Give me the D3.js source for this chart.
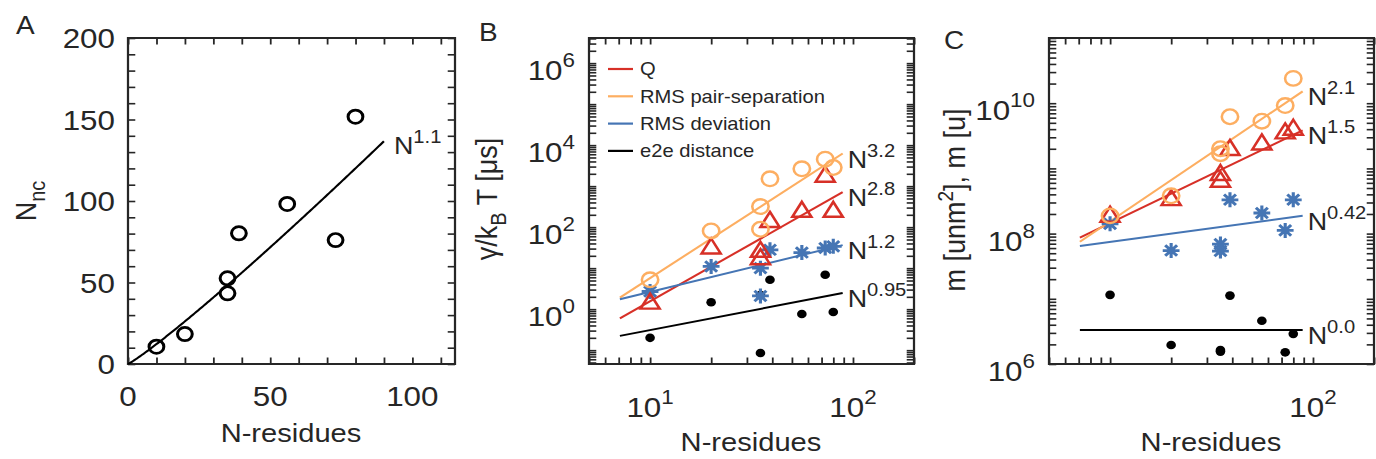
<!DOCTYPE html>
<html>
<head>
<meta charset="utf-8">
<script src="https://cdn.jsdelivr.net/npm/d3@7"></script>
<style>
  body { margin: 0; background: #fff; }
  svg { display: block; }
  text { font-family: "Liberation Sans", Arial, Helvetica, sans-serif; fill: #262626; }
</style>
</head>
<body>
<svg id="fig"></svg>
<script>
// ---- data -------------------------------------------------------------
const residues = [10, 20, 35, 35, 39, 56, 73, 80];

// A: number of native contacts
const nativeContacts = [10.6, 18.4, 52.6, 43.4, 80.2, 98.2, 76, 151.7];
const fitA = { exponent: 1.1, prefactor: 0.968, from: 0, to: 90, label: "1.1" };

// B: friction gamma/kBT [us] per reaction coordinate
const gammaQ    = [1.53, 33.7, 28, 18.5, 150, 265, 1900, 265];
const gammaPair = [5.2, 81, 318, 89, 1510, 2650, 4540, 2850];
const gammaRmsd = [2.7, 11, 10, 2.1, 28, 24, 31, 34];
const gammaE2e  = [0.2, 1.48, 2.2, 0.085, 5.2, 0.76, 6.9, 0.85];
const fitExpB   = [2.8, 3.2, 1.2, 0.95];
const fitLogPreB = [-2.606, -2.443, -0.778, -1.460];
const fitLabelB = ["2.8", "3.2", "1.2", "0.95"];

// C: effective mass
const massQ    = [1.95e8, 3.5e8, 8.5e8, 6.7e8, 2.06e9, 2.5e9, 3.7e9, 4.2e9];
const massPair = [1.87e8, 3.8e8, 2.0e9, 1.68e9, 6.2e9, 5.3e9, 9.2e9, 2.4e10];
const massRmsd = [1.41e8, 5.5e7, 6.9e7, 5.4e7, 3.3e8, 2.07e8, 1.12e8, 3.3e8];
const massE2e  = [1.15e7, 1.96e6, 1.64e6, 1.55e6, 1.12e7, 4.6e6, 1.51e6, 2.9e6];
const fitExpC   = [1.5, 2.1, 0.42, 0.0];
const fitLogPreC = [6.660, 6.087, 7.454, 6.52];
const fitLabelC = ["1.5", "2.1", "0.42", "0.0"];

const fitRangeLog = [7.1, 89];

const seriesNames  = ["Q", "RMS pair-separation", "RMS deviation", "e2e distance"];
const seriesColors = ["#d73027", "#fdae61", "#4575b4", "#000000"];
const seriesShapes = ["triangle", "circle", "star", "dot"];

const xTicksLinA = [0, 50, 100];
const yTicksLinA = [0, 50, 100, 150, 200];
const xTickExpB = [1, 2];
const yTickExpB = [0, 2, 4, 6];
const xTickExpC = [2];
const yTickExpC = [6, 8, 10];

// ---- figure setup ------------------------------------------------------
const SX = 1.12, W = 1376, H = 459;
const TOP = 38, BOTTOM = 364, TICK = 6.5;
const ink = "#262626";
const px = v => v / SX;

const svg = d3.select("#fig")
  .attr("width", W).attr("height", H)
  .attr("viewBox", `0 0 ${W / SX} ${H}`)
  .attr("preserveAspectRatio", "none");

function logTicks(domain) {
  const out = [];
  const lo = Math.floor(Math.log10(domain[0])), hi = Math.ceil(Math.log10(domain[1]));
  for (let e = lo; e <= hi; e++)
    for (let m = 1; m <= 9; m++) {
      const v = m * Math.pow(10, e);
      if (v >= domain[0] * 0.999 && v <= domain[1] * 1.001) out.push(v);
    }
  return out;
}

function clean(sel) {
  sel.select(".domain").remove();
  sel.selectAll(".tick line").attr("stroke", ink).attr("stroke-width", 1.6);
  sel.selectAll(".tick text").remove();
}

function frame(g, x, y, xTicks, yTicks) {
  const [x0, x1] = x.range(), [y0, y1] = y.range();
  g.append("g").attr("transform", `translate(0,${y0})`)
    .call(d3.axisBottom(x).tickValues(xTicks).tickSize(-TICK).tickFormat("")).call(clean);
  g.append("g").attr("transform", `translate(0,${y1})`)
    .call(d3.axisTop(x).tickValues(xTicks).tickSize(-TICK).tickFormat("")).call(clean);
  g.append("g").attr("transform", `translate(${x0},0)`)
    .call(d3.axisLeft(y).tickValues(yTicks).tickSize(-TICK).tickFormat("")).call(clean);
  g.append("g").attr("transform", `translate(${x1},0)`)
    .call(d3.axisRight(y).tickValues(yTicks).tickSize(-TICK).tickFormat("")).call(clean);
  g.append("rect").attr("x", x0).attr("y", y1).attr("width", x1 - x0).attr("height", y0 - y1)
    .attr("fill", "none").attr("stroke", ink).attr("stroke-width", 2);
}

function powLabel(g, x, y, exp, anchor) {
  const t = g.append("text").attr("x", x).attr("y", y).attr("text-anchor", anchor)
    .style("font-size", "28px");
  t.append("tspan").text("10");
  t.append("tspan").attr("dy", -13).style("font-size", "20px").text(exp);
}

function expLabel(g, x, y, exp) {
  const t = g.append("text").attr("x", x).attr("y", y).style("font-size", "24px");
  t.append("tspan").text("N");
  t.append("tspan").attr("dy", -11).style("font-size", "18px").text(exp);
}

function panelLetter(x, y, s) {
  svg.append("text").attr("x", px(x)).attr("y", y).style("font-size", "25px").text(s);
}

function marker(g, shape, color, x, y) {
  if (shape === "circle") {
    g.append("circle").attr("cx", x).attr("cy", y).attr("r", 7.3)
      .attr("fill", "none").attr("stroke", color).attr("stroke-width", 2.3);
  } else if (shape === "triangle") {
    g.append("path").attr("transform", `translate(${x},${y})`)
      .attr("d", "M0,-8 L8.5,7 L-8.5,7 Z")
      .attr("fill", "none").attr("stroke", color).attr("stroke-width", 2.4)
      .attr("stroke-linejoin", "miter");
  } else if (shape === "star") {
    const r = 7.5, d = r * Math.SQRT1_2;
    g.append("path").attr("transform", `translate(${x},${y})`)
      .attr("d", `M0,${-r}V${r}M${-r},0H${r}M${-d},${-d}L${d},${d}M${-d},${d}L${d},${-d}`)
      .attr("stroke", color).attr("stroke-width", 2.8);
  } else {
    g.append("circle").attr("cx", x).attr("cy", y).attr("r", 4.3).attr("fill", color);
  }
}

// ---- panel A -----------------------------------------------------------
{
  const g = svg.append("g");
  const x = d3.scaleLinear().domain([0, 115]).range([px(128), px(455)]);
  const y = d3.scaleLinear().domain([0, 200]).range([BOTTOM, TOP]);
  frame(g, x, y, d3.range(0, 111, 10), d3.range(0, 201, 10));

  xTicksLinA.forEach(v => g.append("text").attr("x", x(v)).attr("y", 406)
    .attr("text-anchor", "middle").style("font-size", "28px").text(v));
  yTicksLinA.forEach(v => g.append("text").attr("x", px(115)).attr("y", y(v)).attr("dy", "0.36em")
    .attr("text-anchor", "end").style("font-size", "28px").text(v));

  const xs = d3.range(0, 201).map(i => fitA.from + (fitA.to - fitA.from) * i / 200);
  g.append("path")
    .attr("d", d3.line().x(d => x(d)).y(d => y(fitA.prefactor * Math.pow(d, fitA.exponent)))(xs))
    .attr("fill", "none").attr("stroke", "#000").attr("stroke-width", 2);

  residues.forEach((n, i) => {
    g.append("circle").attr("cx", x(n)).attr("cy", y(nativeContacts[i])).attr("r", 6.6)
      .attr("fill", "none").attr("stroke", "#000").attr("stroke-width", 2.7);
  });

  const yEnd = fitA.prefactor * Math.pow(fitA.to, fitA.exponent);
  expLabel(g, x(fitA.to) + px(10), y(yEnd) + 13, fitA.label);

  g.append("text").attr("x", px(291)).attr("y", 442).attr("text-anchor", "middle")
    .style("font-size", "26px").text("N-residues");
  const yl = g.append("text").attr("transform", `translate(${px(36)},201) rotate(-90)`)
    .attr("text-anchor", "middle").style("font-size", "27px");
  yl.append("tspan").text("N");
  yl.append("tspan").attr("dy", 8).style("font-size", "20px").text("nc");
  panelLetter(16, 34, "A");
}

// ---- log-log panels ----------------------------------------------------
function logPanel(cfg) {
  const g = svg.append("g");
  const x = d3.scaleLog().domain([5, 200]).range([px(cfg.left), px(cfg.left + 325)]);
  const y = d3.scaleLog().domain(cfg.yDomain).range([BOTTOM, TOP]);
  frame(g, x, y, logTicks(x.domain()), logTicks(y.domain()));

  cfg.xExp.forEach(e => powLabel(g, x(Math.pow(10, e)), 417, e, "middle"));
  cfg.yExp.forEach(e => powLabel(g, px(cfg.left - 14), y(Math.pow(10, e)) + 17, e, "end"));

  // power-law fits
  cfg.fitExp.forEach((k, s) => {
    const f = n => Math.pow(10, cfg.fitLogPre[s] + k * Math.log10(n));
    g.append("path")
      .attr("d", d3.line().x(d => x(d)).y(d => y(f(d)))(fitRangeLog))
      .attr("fill", "none").attr("stroke", seriesColors[s]).attr("stroke-width", 2);
    const xe = fitRangeLog[1];
    expLabel(g, x(xe) + px(5), y(f(xe)) + 14, cfg.fitLabel[s]);
  });

  // data markers, drawn e2e first so the coloured markers sit on top
  [3, 2, 0, 1].forEach(s => {
    residues.forEach((n, i) => marker(g, seriesShapes[s], seriesColors[s], x(n), y(cfg.values[s][i])));
  });

  g.append("text").attr("x", px(cfg.left + 162)).attr("y", 451).attr("text-anchor", "middle")
    .style("font-size", "26px").text("N-residues");
  return { g, x, y };
}

// ---- panel B -----------------------------------------------------------
{
  const { g } = logPanel({
    left: 589, yDomain: [0.046, 4.1e6], xExp: xTickExpB, yExp: yTickExpB,
    fitExp: fitExpB, fitLogPre: fitLogPreB, fitLabel: fitLabelB,
    values: [gammaQ, gammaPair, gammaRmsd, gammaE2e]
  });

  // legend
  seriesNames.forEach((name, s) => {
    const yy = 69 + s * 27.3;
    g.append("line").attr("x1", px(608)).attr("x2", px(633)).attr("y1", yy).attr("y2", yy)
      .attr("stroke", seriesColors[s]).attr("stroke-width", 2.2);
    g.append("text").attr("x", px(640)).attr("y", yy).attr("dy", "0.36em")
      .style("font-size", "18px").text(name);
  });

  const yl = g.append("text").attr("transform", `translate(${px(497)},199) rotate(-90)`)
    .attr("text-anchor", "middle").style("font-size", "27px");
  yl.append("tspan").text("\u03b3/k");
  yl.append("tspan").attr("dy", 8).style("font-size", "20px").text("B");
  yl.append("tspan").attr("dy", -8).text(" T [\u03bcs]");
  panelLetter(479, 41, "B");
}

// ---- panel C -----------------------------------------------------------
{
  const { g } = logPanel({
    left: 1049, yDomain: [1e6, 1e11], xExp: xTickExpC, yExp: yTickExpC,
    fitExp: fitExpC, fitLogPre: fitLogPreC, fitLabel: fitLabelC,
    values: [massQ, massPair, massRmsd, massE2e]
  });

  const yl = g.append("text").attr("transform", `translate(${px(965)},200) rotate(-90)`)
    .attr("text-anchor", "middle").style("font-size", "27px");
  yl.append("tspan").text("m [unm");
  yl.append("tspan").attr("dy", -11).style("font-size", "19px").text("2");
  yl.append("tspan").attr("dy", 11).text("], m [u]");
  panelLetter(944, 49, "C");
}
</script>
</body>
</html>
